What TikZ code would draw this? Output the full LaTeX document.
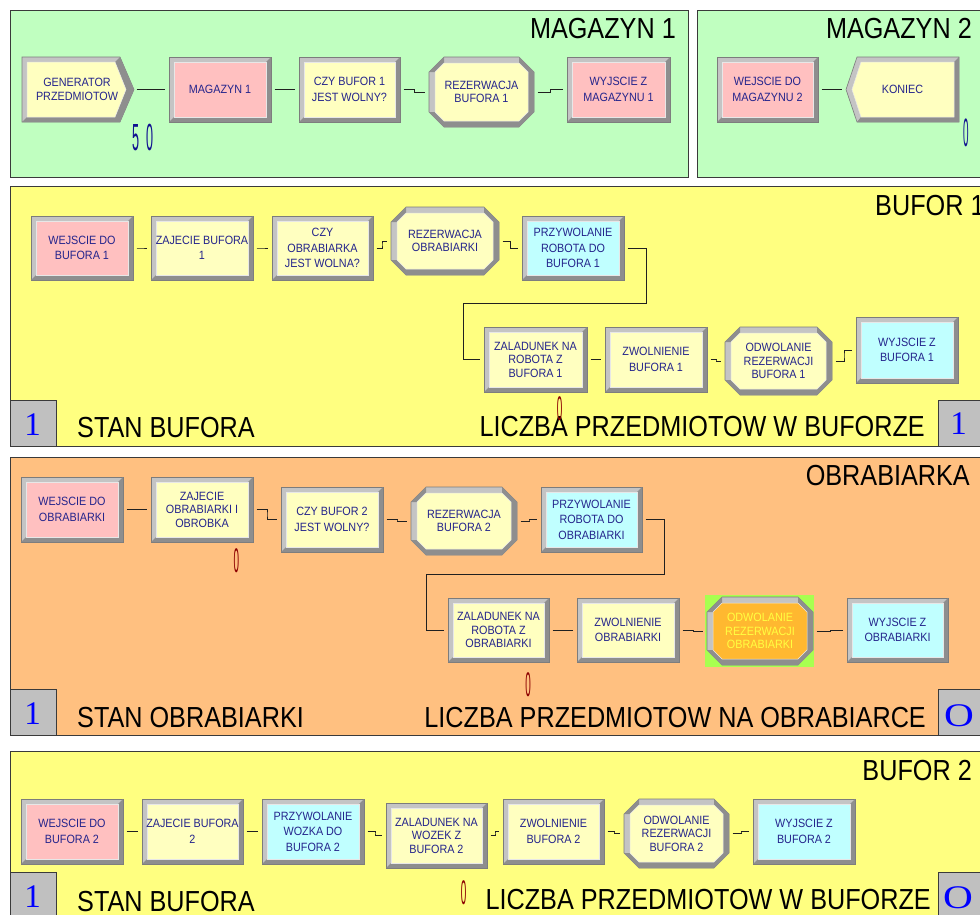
\documentclass[tikz,border=0pt]{standalone}
\usepackage{fontspec}
\setmainfont{Liberation Sans}
\newfontfamily\titfont[FakeStretch=0.87]{Liberation Sans}
\newfontfamily\modfam[FakeStretch=0.9]{Liberation Sans}
\newfontfamily\serfam{Liberation Serif}
\usetikzlibrary{calc}
\definecolor{pGreen}{HTML}{C0FFC0}
\definecolor{pYellow}{HTML}{FFFF80}
\definecolor{pOrange}{HTML}{FFC080}
\definecolor{mPink}{HTML}{FFC0C0}
\definecolor{mYel}{HTML}{FFFFC0}
\definecolor{mCyan}{HTML}{C0FFFF}
\definecolor{mOrange}{HTML}{FFB830}
\definecolor{hiGreen}{HTML}{A8FF50}
\definecolor{bevL}{HTML}{C4C4C4}
\definecolor{bevD}{HTML}{8E8E8E}
\definecolor{bevE}{HTML}{7C7C7C}
\definecolor{txtN}{HTML}{24248C}
\definecolor{lineC}{HTML}{202020}
\definecolor{panelE}{HTML}{3A3A3A}
\definecolor{cntGray}{HTML}{C0C0C0}
\definecolor{cntBlue}{HTML}{0000FF}
\definecolor{smallBlue}{HTML}{101090}
\definecolor{smallRed}{HTML}{8C0000}
\definecolor{yelTxt}{HTML}{FFFF40}
\tikzset{
  modtext/.style={inner sep=0pt, align=center, text=txtN, font=\modfam\fontsize{12}{15.5}\selectfont},
  tightlines/.style={font=\modfam\fontsize{12}{13.5}\selectfont},
  panel/.style={draw=panelE, line width=1pt},
  conn/.style={draw=lineC, line width=0.8pt, shorten <=3.5pt, shorten >=3.5pt,
    to path={-| ($(\tikztostart)!.5!(\tikztotarget)$) |- (\tikztotarget)}},
  wire/.style={draw=lineC, line width=0.8pt, shorten <=3.5pt, shorten >=3.5pt},
  ttl/.style={inner sep=0pt, font=\titfont\fontsize{29}{29}\selectfont, text=black},
  cntbox/.style={fill=cntGray, draw=panelE, line width=0.8pt},
  cntval/.style={inner sep=0pt, anchor=base, text=cntBlue, font=\serfam\fontsize{33}{33}\selectfont},
  smallcnt/.style={inner sep=0pt, font=\rmfamily\fontsize{18}{18}\selectfont}
}
% rectangular module: [opts]{name}{x1}{y1}{x2}{y2}{colour}{text}
\newcommand\modrect[8][]{%
  \filldraw[fill=bevL, draw=bevE, line width=.6pt] (#3,#4) rectangle (#5,#6);
  \fill[bevD] (#5,#4) -- (#5,#6) -- (#3,#6) -- ({#3+5},{#6-5}) -- ({#5-5},{#6-5}) -- ({#5-5},{#4+5}) -- cycle;
  \filldraw[fill=#7, draw=white!60!bevL, line width=.5pt] ({#3+5},{#4+5}) rectangle ({#5-5},{#6-5});
  \node[modtext, minimum width={(#5-#3)*1pt}, minimum height={(#6-#4)*1pt}, #1] (#2) at ({(#3+#5)/2},{(#4+#6)/2}) {#8};
}
% octagonal module
\newcommand\modoct[8][]{%
  \filldraw[fill=bevL, draw=bevE, line width=.6pt] ({#3+15},#4) -- ({#5-15},#4) -- (#5,{#4+15}) -- (#5,{#6-15}) -- ({#5-15},#6) -- ({#3+15},#6) -- (#3,{#6-15}) -- (#3,{#4+15}) -- cycle;
  \fill[bevD] (#5,{#4+15}) -- (#5,{#6-15}) -- ({#5-15},#6) -- ({#3+15},#6) -- ({#3+15},{#6-6}) -- ({#5-15},{#6-6}) -- ({#5-6},{#6-15}) -- ({#5-6},{#4+15}) -- cycle;
  \fill[bevD] ({#3+15},#4) -- ({#3+15},{#4+6}) -- ({#3+6},{#4+15}) -- (#3,{#4+15}) -- cycle;
  \fill[bevD] ({#5-15},#4) -- (#5,{#4+15}) -- ({#5-6},{#4+15}) -- ({#5-15},{#4+6}) -- cycle;
  \fill[bevD] (#3,{#6-15}) -- ({#3+15},#6) -- ({#3+15},{#6-6}) -- ({#3+6},{#6-15}) -- cycle;
  \filldraw[fill=#7, draw=white!60!bevL, line width=.5pt] ({#3+15},{#4+6}) -- ({#5-15},{#4+6}) -- ({#5-6},{#4+15}) -- ({#5-6},{#6-15}) -- ({#5-15},{#6-6}) -- ({#3+15},{#6-6}) -- ({#3+6},{#6-15}) -- ({#3+6},{#4+15}) -- cycle;
  \node[modtext, minimum width={(#5-#3)*1pt}, minimum height={(#6-#4)*1pt}, #1] (#2) at ({(#3+#5)/2},{(#4+#6)/2}) {#8};
}
\begin{document}
\begin{tikzpicture}[x=1pt,y=-1pt]
\useasboundingbox (0,0) rectangle (980,914);
\clip (0,0) rectangle (980,914);
\fill[white] (0,0) rectangle (980,914);
% panels
\draw[panel, fill=pGreen] (10,10) rectangle (688,177);
\draw[panel, fill=pGreen] (697,10) rectangle (995,177);
\draw[panel, fill=pYellow] (10,186) rectangle (995,446);
\draw[panel, fill=pOrange] (10,457) rectangle (995,735);
\draw[panel, fill=pYellow] (10,751) rectangle (995,935);
% titles
\node[ttl, anchor=base east] (t1) at (676,38) {MAGAZYN 1};
\node[ttl, anchor=base east] (t2) at (972,38) {MAGAZYN 2};
\node[ttl, anchor=base west] (t3) at (875,215) {BUFOR 1};
\node[ttl, anchor=base east] (t4) at (970,485) {OBRABIARKA};
\node[ttl, anchor=base east] (t5) at (972,780) {BUFOR 2};

% ---------- MAGAZYN 1 ----------
\filldraw[fill=bevL, draw=bevE, line width=.6pt] (22,57) -- (120,57) -- (134,89.5) -- (120,122) -- (22,122) -- cycle;
\fill[bevD] (120,57) -- (134,89.5) -- (120,122) -- (22,122) -- (27,117) -- (115,117) -- (126,89.5) -- (115,62) -- cycle;
\filldraw[fill=mYel, draw=white!60!bevL, line width=.5pt] (27,62) -- (115,62) -- (126,89.5) -- (115,117) -- (27,117) -- cycle;
\node[modtext, font=\modfam\fontsize{12}{14}\selectfont, minimum width=112pt, minimum height=65pt] (gen) at (77,89) {GENERATOR\\PRZEDMIOTOW};
\modrect{m1}{169}{57}{271}{122}{mPink}{MAGAZYN 1}
\modrect{czy1}{299}{57}{400}{122}{mYel}{CZY BUFOR 1\\JEST WOLNY?}
\modoct[tightlines]{rez1}{429}{57}{534}{127}{mYel}{REZERWACJA\\BUFORA 1}
\modrect{wyjm1}{567}{57}{670}{122}{mPink}{WYJSCIE Z\\MAGAZYNU 1}
\draw[conn] (gen.east) to (m1.west);
\draw[conn] (m1.east) to (czy1.west);
\draw[conn] (czy1.east) to (rez1.west);
\draw[conn] (rez1.east) to (wyjm1.west);
\node[smallcnt, text=smallBlue] (q50) at (143,137.5) {\scalebox{0.7}[2.1]{5\hspace{10pt}0}};

% ---------- MAGAZYN 2 ----------
\modrect{wejm2}{717}{57}{818}{122}{mPink}{WEJSCIE DO\\MAGAZYNU 2}
\filldraw[fill=bevL, draw=bevE, line width=.6pt] (846,89.5) -- (857,57) -- (959,57) -- (959,122) -- (857,122) -- cycle;
\fill[bevD] (959,57) -- (959,122) -- (857,122) -- (861,117) -- (954,117) -- (954,62) -- cycle;
\filldraw[fill=mYel, draw=white!60!bevL, line width=.5pt] (852,89.5) -- (861,62) -- (954,62) -- (954,117) -- (861,117) -- cycle;
\node[modtext, minimum width=113pt, minimum height=65pt] (kon) at (902.5,89.5) {KONIEC};
\draw[conn] (wejm2.east) to (kon.west);
\node[smallcnt, text=smallBlue] (q0m2) at (966.5,132.5) {\scalebox{0.55}[2.2]{0}};

% ---------- BUFOR 1 ----------
\modrect{wejb1}{31}{216}{133}{280}{mPink}{WEJSCIE DO\\BUFORA 1}
\modrect{zajb1}{151}{216}{253}{280}{mYel}{ZAJECIE BUFORA\\1}
\modrect{czyo}{272}{216}{373}{280}{mYel}{CZY\\OBRABIARKA\\JEST WOLNA?}
\modoct[tightlines]{rezo}{391}{207}{499}{275}{mYel}{REZERWACJA\\OBRABIARKI}
\modrect{przb1}{522}{216}{624}{280}{mCyan}{PRZYWOLANIE\\ROBOTA DO\\BUFORA 1}
\modrect[tightlines]{zalb1}{484}{327}{587}{392}{mYel}{ZALADUNEK NA\\ROBOTA Z\\BUFORA 1}
\modrect{zwob1}{605}{327}{707}{392}{mYel}{ZWOLNIENIE\\BUFORA 1}
\modoct[tightlines]{odwb1}{725}{327}{832}{395}{mYel}{ODWOLANIE\\REZERWACJI\\BUFORA 1}
\modrect{wyjb1}{856}{317}{958}{383}{mCyan}{WYJSCIE Z\\BUFORA 1}
\draw[conn] (wejb1.east) to (zajb1.west);
\draw[conn] (zajb1.east) to (czyo.west);
\draw[conn] (czyo.east) to (rezo.west);
\draw[conn] (rezo.east) to (przb1.west);
\coordinate (L3a) at (646,303);
\coordinate (L3b) at (463,303);
\draw[wire] (przb1.east) -| (L3a) -- (L3b) |- (zalb1.west);
\draw[conn] (zalb1.east) to (zwob1.west);
\draw[conn] (zwob1.east) to (odwb1.west);
\draw[conn] (odwb1.east) to (wyjb1.west);
\draw[cntbox] (10,400) rectangle (56,446);
\draw[cntbox] (938,400) rectangle (995,446);
\node[cntval] (c3l) at (32.5,435) {1};
\node[cntval] (c3r) at (958.5,434) {1};
\node[ttl, anchor=base west] (s3) at (77,437) {STAN BUFORA};
\node[ttl, anchor=base east] (l3) at (925,436) {LICZBA PRZEDMIOTOW W BUFORZE};
\node[smallcnt, text=smallRed] (r3) at (559.5,409) {\scalebox{0.55}[1.9]{0}};

% ---------- OBRABIARKA ----------
\modrect{wejo}{21}{477}{123}{542}{mPink}{WEJSCIE DO\\OBRABIARKI}
\modrect[tightlines]{zajo}{151}{477}{253}{542}{mYel}{ZAJECIE\\OBRABIARKI I\\OBROBKA}
\modrect{czyb2}{281}{487}{383}{552}{mYel}{CZY BUFOR 2\\JEST WOLNY?}
\modoct[tightlines]{rezb2}{411}{487}{517}{555}{mYel}{REZERWACJA\\BUFORA 2}
\modrect{przo}{541}{487}{642}{552}{mCyan}{PRZYWOLANIE\\ROBOTA DO\\OBRABIARKI}
\modrect[tightlines]{zalo}{448}{598}{549}{662}{mYel}{ZALADUNEK NA\\ROBOTA Z\\OBRABIARKI}
\modrect{zwoo}{577}{598}{679}{662}{mYel}{ZWOLNIENIE\\OBRABIARKI}
\fill[hiGreen] (705,595) rectangle (814,667);
\modoct[tightlines, text=yelTxt]{odwo}{707}{597}{813}{665}{mOrange}{ODWOLANIE\\REZERWACJI\\OBRABIARKI}
\modrect{wyjo}{847}{598}{948}{662}{mCyan}{WYJSCIE Z\\OBRABIARKI}
\draw[conn] (wejo.east) to (zajo.west);
\draw[conn] (zajo.east) to (czyb2.west);
\draw[conn] (czyb2.east) to (rezb2.west);
\draw[conn] (rezb2.east) to (przo.west);
\coordinate (L4a) at (664,574);
\coordinate (L4b) at (426,574);
\draw[wire] (przo.east) -| (L4a) -- (L4b) |- (zalo.west);
\draw[conn] (zalo.east) to (zwoo.west);
\draw[conn] (zwoo.east) to (odwo.west);
\draw[conn] (odwo.east) to (wyjo.west);
\node[smallcnt, text=smallRed] (r4a) at (236.5,560.5) {\scalebox{0.55}[1.9]{0}};
\node[smallcnt, text=smallRed] (r4b) at (528,684.5) {\scalebox{0.55}[1.9]{0}};
\draw[cntbox] (10,689) rectangle (56,735);
\draw[cntbox] (938,689) rectangle (995,735);
\node[cntval] (c4l) at (32.5,724) {1};
\node[cntval] (c4r) at (959,726) {\scalebox{1.25}[1]{O}};
\node[ttl, anchor=base west] (s4) at (77,727) {STAN OBRABIARKI};
\node[ttl, anchor=base east] (l4) at (926,727) {LICZBA PRZEDMIOTOW NA OBRABIARCE};

% ---------- BUFOR 2 ----------
\modrect{wejb2}{21}{799}{123}{864}{mPink}{WEJSCIE DO\\BUFORA 2}
\modrect{zajb2}{142}{799}{243}{864}{mYel}{ZAJECIE BUFORA\\2}
\modrect{przw}{262}{799}{364}{864}{mCyan}{PRZYWOLANIE\\WOZKA DO\\BUFORA 2}
\modrect[tightlines]{zalw}{386}{803}{487}{868}{mYel}{ZALADUNEK NA\\WOZEK Z\\BUFORA 2}
\modrect{zwob2}{503}{799}{604}{864}{mYel}{ZWOLNIENIE\\BUFORA 2}
\modoct[tightlines]{odwb2}{624}{799}{729}{868}{mYel}{ODWOLANIE\\REZERWACJI\\BUFORA 2}
\modrect{wyjb2}{753}{799}{855}{864}{mCyan}{WYJSCIE Z\\BUFORA 2}
\draw[conn] (wejb2.east) to (zajb2.west);
\draw[conn] (zajb2.east) to (przw.west);
\draw[conn] (przw.east) to (zalw.west);
\draw[conn] (zalw.east) to (zwob2.west);
\draw[conn] (zwob2.east) to (odwb2.west);
\draw[conn] (odwb2.east) to (wyjb2.west);
\draw[cntbox] (10,872) rectangle (56,930);
\draw[cntbox] (938,872) rectangle (995,930);
\node[cntval] (c5l) at (32.5,907) {1};
\node[cntval] (c5r) at (958,908) {\scalebox{1.25}[1]{O}};
\node[ttl, anchor=base west] (s5) at (77,911) {STAN BUFORA};
\node[ttl, anchor=base east] (l5) at (931,909) {LICZBA PRZEDMIOTOW W BUFORZE};
\node[smallcnt, text=smallRed] (r5) at (463.5,892.5) {\scalebox{0.55}[1.9]{0}};
\end{tikzpicture}
\end{document}
